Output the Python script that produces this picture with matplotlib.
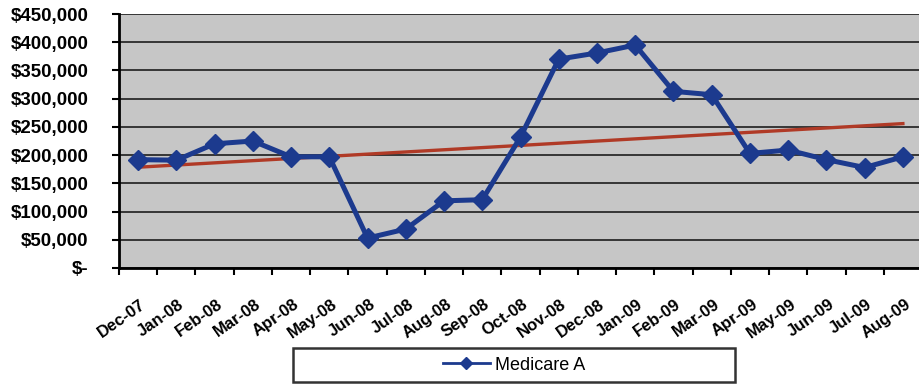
import matplotlib.pyplot as plt
import matplotlib as mpl
import matplotlib.transforms as mtransforms
from matplotlib.patches import Rectangle
import numpy as np
from matplotlib.ticker import FuncFormatter, MultipleLocator

mpl.rcParams['font.family'] = 'Liberation Sans'

# Monthly Medicare A totals
months = ['Dec-07', 'Jan-08', 'Feb-08', 'Mar-08', 'Apr-08', 'May-08', 'Jun-08',
          'Jul-08', 'Aug-08', 'Sep-08', 'Oct-08', 'Nov-08', 'Dec-08', 'Jan-09',
          'Feb-09', 'Mar-09', 'Apr-09', 'May-09', 'Jun-09', 'Jul-09', 'Aug-09']
medicare_a = [192000, 191000, 220000, 225000, 197000, 197000, 53000,
              69000, 119000, 121000, 232000, 370000, 381000, 395000,
              313000, 307000, 203000, 209000, 192000, 178000, 197000]

x = np.arange(len(months))
slope, intercept = np.polyfit(x, medicare_a, 1)
trend = slope * x + intercept

fig = plt.figure(figsize=(9.19, 3.84), dpi=100)
ax = fig.add_axes([119 / 919, 1 - 268 / 384, 803 / 919, 254 / 384])
ax.set_facecolor('#c6c6c6')

ax.plot(x, trend, color='#b03a26', linewidth=2.4, zorder=3)
line, = ax.plot(x, medicare_a, color='#1c3a8e', linewidth=3.6, marker='D',
                markersize=10, markeredgecolor='#1c3a8e', label='Medicare A',
                zorder=4)

ax.set_xlim(-0.5, len(months) - 0.5)
ax.set_ylim(0, 450000)

# y axis: dollar labels with accounting style zero
ax.yaxis.set_major_locator(MultipleLocator(50000))
ax.yaxis.set_major_formatter(FuncFormatter(
    lambda v, p: '$-' if v == 0 else '${:,.0f}'.format(v)))
ax.grid(axis='y', color='#2a2a2a', linewidth=1.3, zorder=1)
ax.set_axisbelow(True)
ax.tick_params(axis='y', direction='out', length=5, width=1.5, pad=17,
               labelsize=13.5, colors='black')
for lbl in ax.get_yticklabels():
    lbl.set_fontweight('bold')

# x axis: category labels at centres, tick marks between categories
ax.set_xticks(x)
ax.set_xticklabels(months, rotation=35, ha='right', va='center',
                   rotation_mode='anchor', fontsize=12, fontweight='bold')
ax.set_xticks(np.arange(-0.5, len(months)), minor=True)
ax.tick_params(axis='x', which='major', length=0, pad=25)
ax.tick_params(axis='x', which='minor', direction='out', length=5, width=1.5)
shift = mtransforms.ScaledTranslation(6 / 100, 0, fig.dpi_scale_trans)
for lbl in ax.get_xticklabels():
    lbl.set_transform(lbl.get_transform() + shift)

for side in ['top', 'right']:
    ax.spines[side].set_visible(False)
ax.spines['left'].set_linewidth(2)
ax.spines['bottom'].set_linewidth(2)

# legend box below the chart
fig.patches.append(Rectangle((293 / 919, 1 - 382 / 384), 442 / 919, 34 / 384,
                             transform=fig.transFigure, facecolor='white',
                             edgecolor='#333333', linewidth=1.8))
leg = fig.legend(handles=[line], loc='center',
                 bbox_to_anchor=(514 / 919, 1 - 365 / 384),
                 frameon=False, fontsize=13, handlelength=2.6,
                 markerscale=0.6, handletextpad=0.3)
leg.get_lines()[0].set_linewidth(2)

fig.savefig('out.png', dpi=100)
